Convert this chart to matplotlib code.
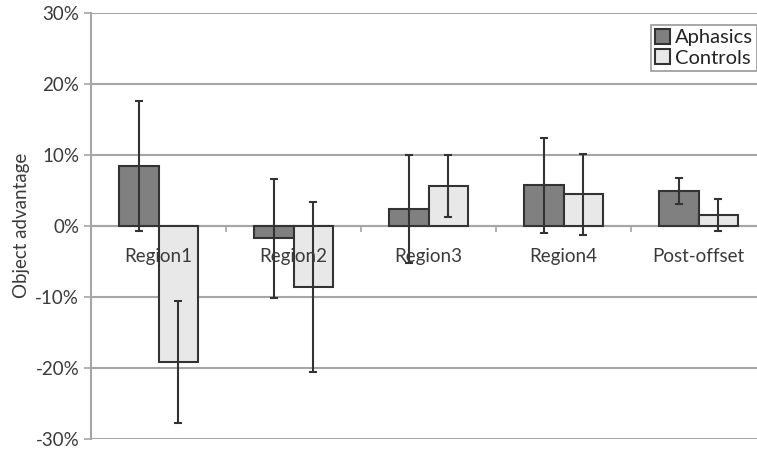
import numpy as np
import matplotlib.pyplot as plt
from matplotlib.ticker import PercentFormatter

plt.rcParams["font.family"] = ["Lato", "DejaVu Sans"]
plt.rcParams["axes.unicode_minus"] = False

categories = ["Region1", "Region2", "Region3", "Region4", "Post-offset"]
aphasics = [8.45, -1.8, 2.35, 5.7, 4.9]
aphasics_err = [9.15, 8.35, 7.6, 6.7, 1.8]
controls = [-19.2, -8.6, 5.6, 4.4, 1.5]
controls_err = [8.6, 11.95, 4.4, 5.65, 2.25]

x = np.arange(len(categories))
width = 0.29
edge = "#333333"
grid_color = "#a6a6a6"
text_color = "#3a3a3a"

fig = plt.figure(figsize=(7.57, 4.53), dpi=100)
ax = fig.add_axes([91 / 757, 14.3 / 453, 675 / 757, 426 / 453])

ax.bar(x - width / 2, aphasics, width, color="#808080", edgecolor=edge,
       linewidth=1.5, label="Aphasics", zorder=3)
ax.bar(x + width / 2, controls, width, color="#e8e8e8", edgecolor=edge,
       linewidth=1.5, label="Controls", zorder=3)
ax.errorbar(x - width / 2, aphasics, yerr=aphasics_err, fmt="none",
            ecolor=edge, elinewidth=1.5, capsize=3, capthick=1.5, zorder=4)
ax.errorbar(x + width / 2, controls, yerr=controls_err, fmt="none",
            ecolor=edge, elinewidth=1.5, capsize=3, capthick=1.5, zorder=4)

ax.set_xlim(-0.5, len(categories) - 0.5)
ax.set_ylim(-30, 30)
ax.set_yticks(np.arange(-30, 31, 10))
ax.yaxis.set_major_formatter(PercentFormatter(decimals=0))
ax.yaxis.grid(True, color=grid_color, linewidth=1.5, zorder=0)
ax.set_axisbelow(True)

# x axis runs along zero, tick marks at the category boundaries
ax.spines["bottom"].set_position(("data", 0))
ax.spines["bottom"].set_color(grid_color)
ax.spines["bottom"].set_linewidth(1.5)
ax.set_xticks(np.arange(-0.5, len(categories), 1.0))
ax.set_xticklabels([])
ax.tick_params(axis="x", length=4, width=1.2, color=grid_color)

# category names sit over the bars, just under the zero line
for xi, name in zip(x, categories):
    ax.annotate(name, (xi, 0), xytext=(0, -22), textcoords="offset points",
                ha="center", va="center", fontsize=13.5, color=text_color,
                zorder=6)

ax.spines["left"].set_color(grid_color)
ax.spines["left"].set_linewidth(1.5)
ax.spines["top"].set_visible(False)
ax.spines["right"].set_visible(False)
ax.tick_params(axis="y", length=5, width=1.2, color=grid_color,
               labelsize=13.5, labelcolor=text_color)
ax.set_ylabel("Object advantage", fontsize=13.5, color=text_color, labelpad=4)

leg = fig.legend(loc="upper right", bbox_to_anchor=(1.0, 0.945),
                 fontsize=14.5, frameon=True, fancybox=False, handlelength=0.75,
                 handleheight=0.75, handletextpad=0.25, borderpad=0.2,
                 labelspacing=0.15, borderaxespad=0.0)
leg.get_frame().set_edgecolor("#808080")
leg.get_frame().set_linewidth(1.2)
for txt in leg.get_texts():
    txt.set_color("#222222")

fig.savefig("out.png", dpi=100)
